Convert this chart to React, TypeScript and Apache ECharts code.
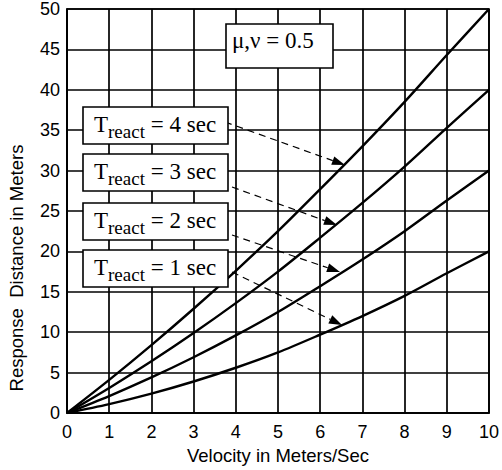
import React, { useEffect, useRef } from "react";
import * as echarts from "echarts";

// Velocity in m/s (x axis)
const VELOCITY = [0, 1, 2, 3, 4, 5, 6, 7, 8, 9, 10];
// Response distance in meters, per reaction time
const T_REACT_1 = [0, 1.1, 2.4, 3.9, 5.6, 7.5, 9.7, 12.0, 14.5, 17.3, 20.0];
const T_REACT_2 = [0, 2.1, 4.4, 6.9, 9.6, 12.5, 15.7, 19.0, 22.5, 26.3, 30.0];
const T_REACT_3 = [0, 3.1, 6.4, 9.9, 13.6, 17.5, 21.7, 26.0, 30.5, 35.3, 40.0];
const T_REACT_4 = [0, 4.1, 8.4, 12.9, 17.6, 22.5, 27.7, 33.0, 38.5, 44.3, 50.0];
const SERIES_NAMES = ["T=1", "T=2", "T=3", "T=4"];
const REACT_LABELS = ["4", "3", "2", "1"];

const SERIF = "'Liberation Serif', 'Times New Roman', serif";
const SANS = "'Liberation Sans', Arial, sans-serif";

export default function App() {
  const ref = useRef<HTMLDivElement>(null);
  useEffect(() => {
    if (!ref.current) return;
    const chart = echarts.init(ref.current, null, { renderer: "svg" });
    const allSeries = [T_REACT_1, T_REACT_2, T_REACT_3, T_REACT_4];

    const boxTops = [107, 154, 203, 250];
    const boxLeft = 83;
    const boxW = 145;
    const boxH = 37;

    const graphics: any[] = [];
    boxTops.forEach((top, i) => {
      graphics.push({
        type: "rect",
        z: 100,
        shape: { x: boxLeft, y: top, width: boxW, height: boxH },
        style: { fill: "#fff", stroke: "#000", lineWidth: 1.6 },
      });
      const base = top + boxH - 12;
      graphics.push({
        type: "text",
        z: 101,
        x: 94,
        y: base - 7.8,
        style: { text: "T", font: `23px ${SERIF}`, fill: "#000", verticalAlign: "middle", align: "left" },
      });
      graphics.push({
        type: "text",
        z: 101,
        x: 108,
        y: base + 6 - 6.4,
        style: { text: "react", font: `19px ${SERIF}`, fill: "#000", verticalAlign: "middle", align: "left" },
      });
      graphics.push({
        type: "text",
        z: 101,
        x: 145,
        y: base - 7.8,
        style: {
          text: ` = ${REACT_LABELS[i]} sec`,
          font: `23px ${SERIF}`,
          fill: "#000",
          verticalAlign: "middle",
          align: "left",
        },
      });
    });

    // mu box
    graphics.push({
      type: "rect",
      z: 100,
      shape: { x: 226, y: 24, width: 107, height: 44 },
      style: { fill: "#fff", stroke: "#000", lineWidth: 1.6 },
    });
    graphics.push({
      type: "text",
      z: 101,
      x: 232,
      y: 48 - 7.8,
      style: { text: "\u03bc,\u03bd = 0.5", font: `23px ${SERIF}`, fill: "#000", verticalAlign: "middle", align: "left" },
    });

    // dashed arrows (pixel annotations)
    const arrows = [
      [225, 122, 345, 165],
      [232, 187, 337, 225],
      [232, 235, 340, 272],
      [232, 272, 342, 325],
    ];
    arrows.forEach(([x1, y1, x2, y2]) => {
      const dx = x2 - x1;
      const dy = y2 - y1;
      const len = Math.sqrt(dx * dx + dy * dy);
      const ux = dx / len;
      const uy = dy / len;
      const hl = 13;
      const hw = 4.5;
      const bx = x2 - ux * hl;
      const by = y2 - uy * hl;
      graphics.push({
        type: "line",
        z: 90,
        shape: { x1, y1, x2: bx, y2: by },
        style: { stroke: "#000", lineWidth: 1.2, lineDash: [7, 5] },
      });
      graphics.push({
        type: "polygon",
        z: 90,
        shape: {
          points: [
            [x2, y2],
            [bx - uy * hw, by + ux * hw],
            [bx + uy * hw, by - ux * hw],
          ],
        },
        style: { fill: "#000" },
      });
    });

    // y-axis title
    graphics.push({
      type: "text",
      z: 50,
      x: 16,
      y: 268,
      rotation: Math.PI / 2,
      style: {
        text: "Response  Distance in Meters",
        font: `18.5px ${SANS}`,
        fill: "#000",
        align: "center",
        verticalAlign: "middle",
      },
    });

    chart.setOption({
      animation: false,
      backgroundColor: "#fff",
      grid: {
        left: 67,
        right: 11,
        top: 9,
        bottom: 57,
        show: true,
        borderColor: "#000",
        borderWidth: 1.7,
      },
      xAxis: {
        type: "value",
        min: 0,
        max: 10,
        interval: 1,
        name: "Velocity in Meters/Sec",
        nameLocation: "middle",
        nameGap: 31,
        nameTextStyle: { fontFamily: SANS, fontSize: 18.5, color: "#000" },
        axisLine: { show: true, lineStyle: { color: "#000", width: 1.7 } },
        axisTick: { show: false },
        axisLabel: { fontFamily: SANS, fontSize: 18, color: "#000", margin: 10 },
        splitLine: { show: true, lineStyle: { color: "#000", width: 1.7 } },
      },
      yAxis: {
        type: "value",
        min: 0,
        max: 50,
        interval: 5,
        axisLine: { show: true, lineStyle: { color: "#000", width: 1.7 } },
        axisTick: { show: false },
        axisLabel: { fontFamily: SANS, fontSize: 18, color: "#000", margin: 7 },
        splitLine: { show: true, lineStyle: { color: "#000", width: 1.7 } },
      },
      series: allSeries.map((vals, i) => ({
        name: SERIES_NAMES[i],
        type: "line",
        data: VELOCITY.map((v, j) => [v, vals[j]]),
        showSymbol: false,
        symbol: "none",
        smooth: 0.3,
        lineStyle: { color: "#000", width: 2.4 },
        z: 5,
      })),
      graphic: graphics,
    });
    return () => chart.dispose();
  }, []);
  return (
    <div
      ref={ref}
      style={{ position: "fixed", left: 0, top: 0, width: 502, height: 470, background: "#fff" }}
    />
  );
}
